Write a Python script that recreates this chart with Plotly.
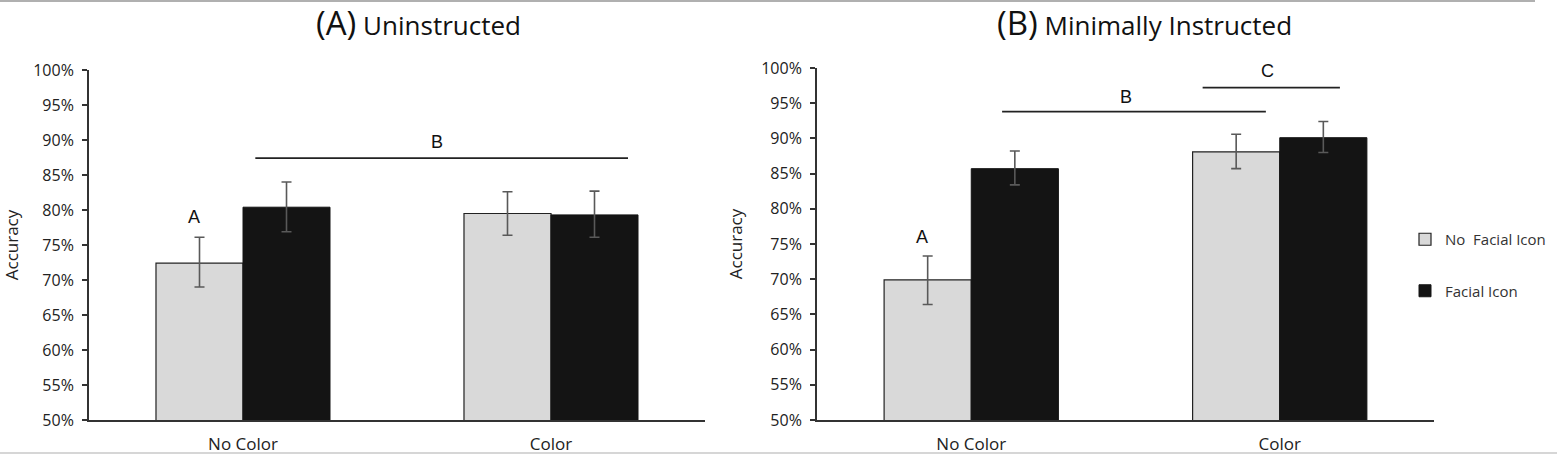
import plotly.graph_objects as go

categories = ["No Color", "Color"]
series_names = ["No  Facial Icon", "Facial Icon"]

# Panel A (Uninstructed)
a_nofacial = [72.4, 79.5]
a_nofacial_up = [3.7, 3.1]
a_nofacial_dn = [3.4, 3.1]
a_facial = [80.4, 79.3]
a_facial_up = [3.6, 3.4]
a_facial_dn = [3.5, 3.2]

# Panel B (Minimally Instructed)
b_nofacial = [69.9, 88.1]
b_nofacial_up = [3.4, 2.5]
b_nofacial_dn = [3.5, 2.4]
b_facial = [85.7, 90.1]
b_facial_up = [2.5, 2.3]
b_facial_dn = [2.3, 2.1]

y_tickvals = [50, 55, 60, 65, 70, 75, 80, 85, 90, 95, 100]
y_ticktext = [f"{v}%" for v in y_tickvals]

titles = ["(A)", "(B)"]
subtitles = ["Uninstructed", "Minimally Instructed"]

# significance annotations: (x0, x1, y) lines and letter labels (x, y, text)
a_sig_lines = [(0.04, 1.25, 87.4)]
a_sig_labels = [(-0.16, 79.0, "A"), (0.63, 89.7, "B")]
b_sig_lines = [(0.10, 0.955, 93.8), (0.75, 1.195, 97.2)]
b_sig_labels = [(-0.16, 76.0, "A"), (0.50, 95.9, "B"), (0.96, 99.6, "C")]

FONT = "Open Sans, sans-serif"
AX = "#333333"
LIGHT = "#d9d9d9"
DARK = "#141414"
ERR = "#595959"

fig = go.Figure()

def add_panel(xa, ya, nf, nf_up, nf_dn, f, f_up, f_dn, show):
    fig.add_trace(go.Bar(
        x=categories, y=nf, name=series_names[0], xaxis=xa, yaxis=ya,
        marker=dict(color=LIGHT, line=dict(color="#222222", width=1.2)),
        error_y=dict(type="data", symmetric=False, array=nf_up, arrayminus=nf_dn,
                     color=ERR, thickness=1.6, width=5),
        showlegend=show, legendgroup="g1"))
    fig.add_trace(go.Bar(
        x=categories, y=f, name=series_names[1], xaxis=xa, yaxis=ya,
        marker=dict(color=DARK, line=dict(color=DARK, width=1)),
        error_y=dict(type="data", symmetric=False, array=f_up, arrayminus=f_dn,
                     color=ERR, thickness=1.6, width=5),
        showlegend=show, legendgroup="g2"))

add_panel("x", "y", a_nofacial, a_nofacial_up, a_nofacial_dn, a_facial, a_facial_up, a_facial_dn, True)
add_panel("x2", "y2", b_nofacial, b_nofacial_up, b_nofacial_dn, b_facial, b_facial_up, b_facial_dn, False)

W, H = 1557, 456
xdom1 = [89 / W, 705 / W]
xdom2 = [817 / W, 1434 / W]
ydom1 = [(H - 420) / H, (H - 70) / H]
ydom2 = [(H - 420) / H, (H - 68) / H]

xaxis_common = dict(type="category", range=[-0.5, 1.5], showline=True, linecolor=AX,
                    linewidth=1.8, ticks="", showgrid=False, zeroline=False, automargin=False,
                    ticklabelstandoff=8,
                    tickfont=dict(family=FONT, size=17, color="#222222"), fixedrange=True)
yaxis_common = dict(range=[50, 100], tickvals=y_tickvals, ticktext=y_ticktext,
                    showline=True, linecolor=AX, linewidth=1.8, ticks="outside",
                    ticklen=5, tickwidth=1.5, tickcolor=AX, showgrid=False, zeroline=False,
                    automargin=False, ticklabelstandoff=5, fixedrange=True,
                    tickfont=dict(family=FONT, size=16, color="#222222"),
                    title=dict(text="Accuracy", font=dict(family=FONT, size=17, color="#222222"),
                               standoff=14))

fig.update_layout(
    width=W, height=H,
    margin=dict(l=0, r=0, t=0, b=0, autoexpand=False),
    paper_bgcolor="white", plot_bgcolor="white",
    barmode="group", bargap=0.435, bargroupgap=0,
    xaxis=dict(domain=xdom1, anchor="y", **xaxis_common),
    yaxis=dict(domain=ydom1, anchor="x", **yaxis_common),
    xaxis2=dict(domain=xdom2, anchor="y2", **xaxis_common),
    yaxis2=dict(domain=ydom2, anchor="x2", **yaxis_common),
    legend=dict(x=1405 / W, y=(H - 223) / H, xanchor="left", yanchor="top",
                font=dict(family=FONT, size=15, color="#333333"),
                tracegroupgap=29, itemwidth=30, bgcolor="rgba(0,0,0,0)",
                traceorder="grouped"),
    showlegend=True,
)

shapes = []
annotations = []
for (xr, yr, lines, labels) in [("x", "y", a_sig_lines, a_sig_labels),
                                ("x2", "y2", b_sig_lines, b_sig_labels)]:
    for x0, x1, yv in lines:
        shapes.append(dict(type="line", xref=xr, yref=yr, x0=x0, x1=x1, y0=yv, y1=yv,
                           line=dict(color="#222222", width=1.8)))
    for xv, yv, t in labels:
        annotations.append(dict(xref=xr, yref=yr, x=xv, y=yv, text=t, showarrow=False,
                                font=dict(family="Liberation Sans, Arial, sans-serif", size=18,
                                          color="#111111")))

title_x = [418 / W, 1144 / W]
for tx, t1, t2 in zip(title_x, titles, subtitles):
    annotations.append(dict(xref="paper", yref="paper", x=tx, y=(H - 22) / H,
                            text=f"<span style='font-size:33px'>{t1}</span> {t2}",
                            showarrow=False, xanchor="center", yanchor="middle",
                            font=dict(family=FONT, size=26, color="#111111")))

# thin grey page borders at top and bottom
shapes.append(dict(type="line", xref="paper", yref="paper", x0=0, x1=1535 / W, y0=1 - 1 / H, y1=1 - 1 / H,
                   line=dict(color="#b0b0b0", width=2)))
shapes.append(dict(type="line", xref="paper", yref="paper", x0=0, x1=1, y0=3 / H, y1=3 / H,
                   line=dict(color="#c8c8c8", width=1.5)))

fig.update_layout(shapes=shapes, annotations=annotations)
fig.write_html("out.html", config={"displayModeBar": False},
               post_script="document.body.style.margin='0';")
